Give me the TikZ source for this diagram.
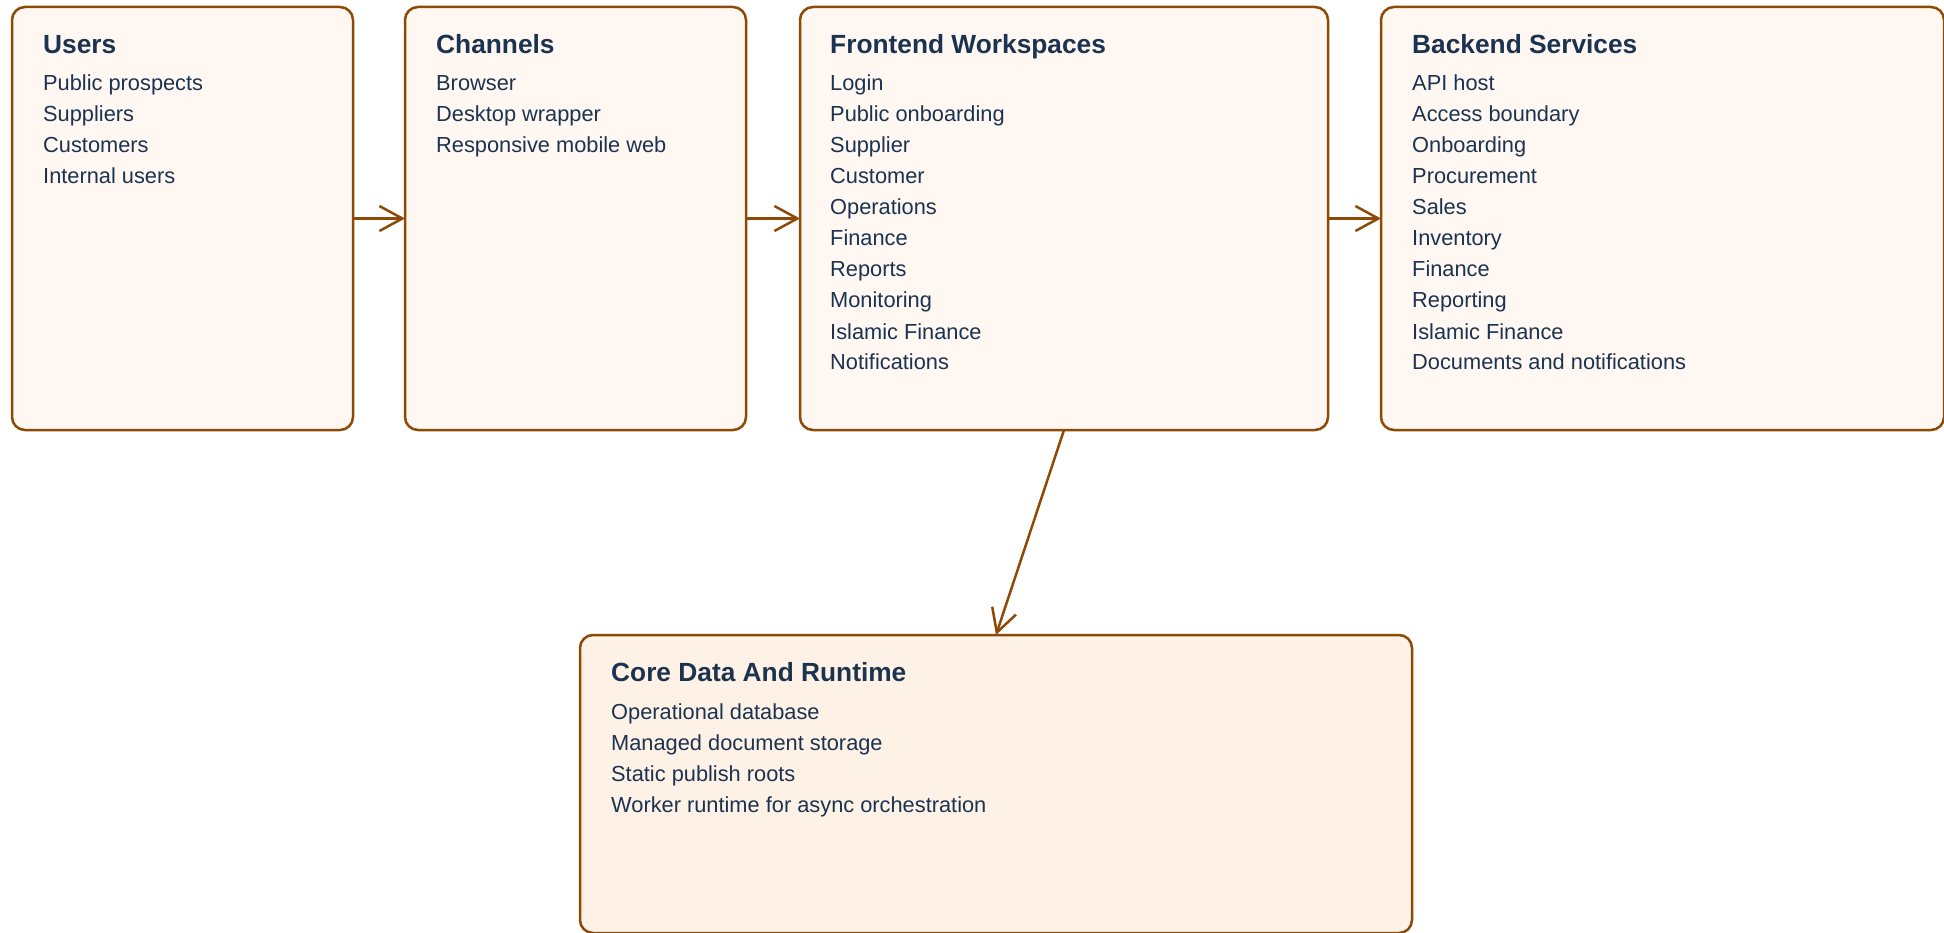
\documentclass[tikz,border=0pt]{standalone}
\usepackage{fontspec}
\setmainfont{Liberation Sans}
\usetikzlibrary{arrows.meta}
\definecolor{edge}{HTML}{8C4A06}
\definecolor{ink}{HTML}{1B3350}
\definecolor{fillA}{HTML}{FFF8F2}
\definecolor{fillB}{HTML}{FEF2E6}
\tikzset{
  panel/.style={draw=edge, line width=2.5pt, rounded corners=13pt, inner sep=0pt, outer sep=0pt, fill=fillA, anchor=north west},
  ttl/.style={anchor=base west, inner sep=0pt, text=ink, font=\fontsize{26.3}{30}\selectfont\bfseries},
  itm/.style={anchor=base west, inner sep=0pt, text=ink, font=\fontsize{21.8}{26}\selectfont},
  flow/.style={draw=edge, line width=2.5pt, -{Straight Barb[length=23pt,width=25pt,line width=2.5pt]}},
}
\newcommand\paneltext[5]{% name, x, title baseline, title, items
  \node[ttl] (#1-title) at (#2,#3) {#4};
  \foreach \t [count=\i from 0] in {#5}
    \node[itm] (#1-item\i) at (#2,{#3+37.5+31*\i}) {\t};
}
\begin{document}
\begin{tikzpicture}[x=1pt,y=-1pt]
\useasboundingbox (0,0) rectangle (1944,933);
\node[panel, minimum width=341pt, minimum height=423pt] (users) at (12,7) {};
\node[panel, minimum width=341pt, minimum height=423pt] (channels) at (405,7) {};
\node[panel, minimum width=528pt, minimum height=423pt] (front) at (800,7) {};
\node[panel, minimum width=563pt, minimum height=423pt] (back) at (1381,7) {};
\node[panel, fill=fillB, minimum width=832pt, minimum height=298pt] (core) at (580,635) {};

\paneltext{u}{43}{53.5}{Users}{Public prospects,Suppliers,Customers,Internal users}
\paneltext{c}{436}{53.5}{Channels}{Browser,Desktop wrapper,Responsive mobile web}
\paneltext{f}{830}{53.5}{Frontend Workspaces}{Login,Public onboarding,Supplier,Customer,Operations,Finance,Reports,Monitoring,Islamic Finance,Notifications}
\paneltext{b}{1412}{53.5}{Backend Services}{API host,Access boundary,Onboarding,Procurement,Sales,Inventory,Finance,Reporting,Islamic Finance,Documents and notifications}
\paneltext{d}{611}{681.5}{Core Data And Runtime}{Operational database,Managed document storage,Static publish roots,Worker runtime for async orchestration}

\draw[flow] (users.east) -- (channels.west);
\draw[flow] (channels.east) -- (front.west);
\draw[flow] (front.east) -- (back.west);
\draw[flow] (front.south) -- (core.north);
\end{tikzpicture}
\end{document}
